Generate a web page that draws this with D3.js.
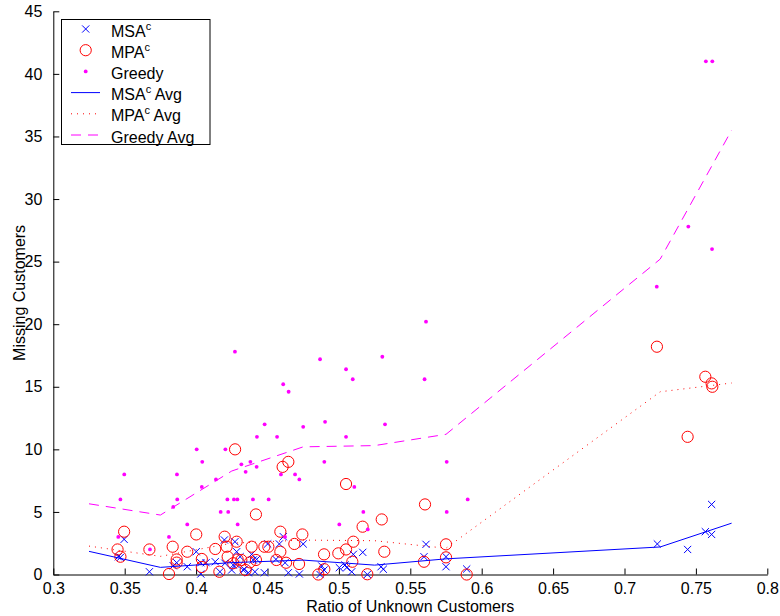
<!DOCTYPE html>
<html>
<head>
<meta charset="utf-8">
<script src="https://cdn.jsdelivr.net/npm/d3@7"></script>
<style>
  html, body { margin: 0; padding: 0; background: #fff; }
  svg { display: block; }
  text { font-family: "Liberation Sans", Arial, Helvetica, sans-serif; }
</style>
</head>
<body>
<svg id="chart" width="780" height="616"></svg>
<script>
// ---------------- data ----------------
const xTicks = [0.3, 0.35, 0.4, 0.45, 0.5, 0.55, 0.6, 0.65, 0.7, 0.75, 0.8];
const xTickLabels = ["0.3", "0.35", "0.4", "0.45", "0.5", "0.55", "0.6", "0.65", "0.7", "0.75", "0.8"];
const yTicks = [0, 5, 10, 15, 20, 25, 30, 35, 40, 45];
const yTickLabels = ["0", "5", "10", "15", "20", "25", "30", "35", "40", "45"];

// MSA^c scatter: [ratio, missing]
const msaPoints = [
  [0.3455,1.42],[0.347,1.37],[0.3496,2.81],[0.3673,0.22],[0.384,0.7],[0.3864,0.94],
  [0.3938,0.62],[0.4001,1.82],[0.4033,0.94],[0.4033,0.04],[0.407,0.94],[0.4134,1.02],
  [0.4167,0.22],[0.4198,2.76],[0.4202,0.9],[0.4249,0.36],[0.426,0.76],[0.4272,2.62],
  [0.4279,0.81],[0.4284,1.82],[0.4308,1.42],[0.433,0.36],[0.4338,0.42],[0.4366,0.14],
  [0.4389,1.61],[0.44,1.16],[0.4412,0.22],[0.4424,1.21],[0.4478,0.14],[0.4501,2.44],
  [0.4559,1.21],[0.4583,2.44],[0.4611,3.02],[0.4623,0.94],[0.4646,0.14],[0.4723,0.04],
  [0.475,2.44],[0.4868,0.0],[0.488,0.68],[0.4896,0.36],[0.5003,0.55],[0.5043,0.76],
  [0.5055,0.55],[0.509,0.22],[0.5101,1.61],[0.5167,1.77],[0.5199,0.0],[0.5295,0.62],
  [0.5311,0.42],[0.5596,1.42],[0.561,2.41],[0.575,1.42],[0.575,0.62],[0.5895,0.44],
  [0.723,2.44],[0.7442,2.0],[0.7566,3.42],[0.761,3.2],[0.761,5.6]
];
// MPA^c scatter
const mpaPoints = [
  [0.345,2.0],[0.347,1.42],[0.3496,3.42],[0.3673,2.0],[0.381,0.04],[0.3836,2.22],
  [0.3864,1.2],[0.3864,0.95],[0.3938,1.82],[0.4001,3.2],[0.404,1.24],[0.404,0.6],
  [0.4134,2.04],[0.4163,0.22],[0.42,3.02],[0.4214,2.22],[0.4221,1.42],[0.426,0.9],
  [0.4273,10.0],[0.4284,2.62],[0.4291,1.2],[0.4317,1.16],[0.4347,0.36],[0.4377,0.97],
  [0.4389,2.22],[0.4419,4.8],[0.4419,1.16],[0.4478,2.22],[0.4506,2.22],[0.4562,1.16],
  [0.459,3.42],[0.459,1.82],[0.4606,8.6],[0.4646,9.0],[0.463,0.94],[0.4688,2.44],
  [0.4721,0.84],[0.4744,3.2],[0.4856,0.0],[0.4896,1.61],[0.4898,0.42],[0.4996,1.69],
  [0.505,7.23],[0.505,2.0],[0.5094,1.02],[0.5101,2.62],[0.5166,3.82],[0.5199,0.02],
  [0.53,4.4],[0.5318,1.82],[0.5596,1.02],[0.5603,5.6],[0.575,2.41],[0.575,1.37],
  [0.5895,0.0],[0.7227,18.2],[0.7442,11.0],[0.7566,15.8],[0.761,15.27],[0.7615,15.0]
];
// Greedy scatter
const greedyPoints = [
  [0.3455,3.0],[0.347,6.0],[0.3497,8.0],[0.3677,2.0],[0.381,3.0],[0.384,5.4],
  [0.3868,6.0],[0.3866,8.0],[0.3938,4.0],[0.4004,10.0],[0.4043,9.0],[0.404,7.0],
  [0.4139,7.6],[0.4172,5.0],[0.4225,5.0],[0.4205,10.0],[0.4219,6.0],[0.4265,6.0],
  [0.4289,6.0],[0.4291,4.0],[0.4272,17.8],[0.4317,8.8],[0.4347,8.2],[0.438,9.0],
  [0.4398,6.0],[0.4424,8.6],[0.4426,11.0],[0.448,12.0],[0.4508,6.0],[0.4567,11.0],
  [0.4594,8.0],[0.461,15.2],[0.4623,3.0],[0.4648,14.6],[0.4693,8.0],[0.4723,7.6],
  [0.475,11.8],[0.4868,17.2],[0.4898,9.0],[0.4903,12.2],[0.5003,4.0],[0.505,16.4],
  [0.505,11.0],[0.5097,15.6],[0.5108,7.0],[0.5171,5.0],[0.5202,3.6],[0.5304,17.4],
  [0.5323,12.0],[0.56,15.6],[0.561,20.2],[0.5755,9.0],[0.5755,5.0],[0.5902,6.0],
  [0.7226,23.0],[0.7447,27.8],[0.757,41.0],[0.7613,26.0],[0.7615,41.0]
];

// Averages (bin centres)
const avgX = [0.325, 0.375, 0.425, 0.475, 0.525, 0.575, 0.725, 0.775];
const msaAvg = [1.85, 0.57, 0.95, 1.15, 0.75, 1.25, 2.2, 4.1];
const mpaAvg = [2.27, 1.45, 2.5, 2.75, 2.7, 2.1, 14.6, 15.3];
const greedyAvg = [5.65, 4.75, 8.27, 10.2, 10.3, 11.2, 25.2, 35.5];

const xTitle = "Ratio of Unknown Customers";
const yTitle = "Missing Customers";

// ---------------- drawing ----------------
(function () {
const svg = d3.select("#chart");
const FONT = 16;
const pLeft = 53.3, pRight = 767.3, pTop = 11.3, pBottom = 574.5;

const x = d3.scaleLinear().domain([0.3, 0.8]).range([pLeft, pRight]);
const y = d3.scaleLinear().domain([0, 45]).range([pBottom, pTop]);

const BLUE = "#0000ff", RED = "#ff0000", MAG = "#ff00ff";

// axes
const xAxis = d3.axisBottom(x).tickValues(xTicks)
  .tickFormat((d, i) => xTickLabels[i]).tickSizeInner(-6).tickSizeOuter(0).tickPadding(8);
const yAxis = d3.axisLeft(y).tickValues(yTicks)
  .tickFormat((d, i) => yTickLabels[i]).tickSizeInner(-6).tickSizeOuter(0).tickPadding(11);

const gx = svg.append("g").attr("transform", `translate(0,${pBottom})`).call(xAxis);
const gy = svg.append("g").attr("transform", `translate(${pLeft},0)`).call(yAxis);
[gx, gy].forEach(g => {
  g.selectAll("text").attr("font-size", FONT).attr("fill", "#000")
    .attr("font-family", '"Liberation Sans", Arial, Helvetica, sans-serif');
  g.selectAll("line").attr("stroke", "#000");
  g.select(".domain").attr("stroke", "#000");
});

// titles
svg.append("text").attr("x", (pLeft + pRight) / 2).attr("y", 612)
  .attr("text-anchor", "middle").attr("font-size", FONT).text(xTitle);
svg.append("text")
  .attr("transform", `translate(25,${(pTop + pBottom) / 2}) rotate(-90)`)
  .attr("text-anchor", "middle").attr("font-size", FONT).text(yTitle);

const plot = svg.append("g");

// MSA crosses
const cs = 3.6;
plot.append("g").selectAll("path").data(msaPoints).join("path")
  .attr("d", d => {
    const px = x(d[0]), py = y(d[1]);
    return `M${px - cs},${py - cs}L${px + cs},${py + cs}M${px - cs},${py + cs}L${px + cs},${py - cs}`;
  })
  .attr("stroke", BLUE).attr("stroke-width", 1).attr("fill", "none");

// MPA circles
plot.append("g").selectAll("circle").data(mpaPoints).join("circle")
  .attr("cx", d => x(d[0])).attr("cy", d => y(d[1])).attr("r", 5.6)
  .attr("stroke", RED).attr("stroke-width", 1).attr("fill", "none");

// Greedy dots
plot.append("g").selectAll("circle").data(greedyPoints).join("circle")
  .attr("cx", d => x(d[0])).attr("cy", d => y(d[1])).attr("r", 1.9)
  .attr("fill", MAG);

// Average lines
const line = d3.line().x(d => x(d[0])).y(d => y(d[1]));
const avgSeries = [
  { vals: msaAvg, color: BLUE, dash: null },
  { vals: mpaAvg, color: RED, dash: "1,5" },
  { vals: greedyAvg, color: MAG, dash: "10,7" }
];
avgSeries.forEach(s => {
  plot.append("path").datum(avgX.map((v, i) => [v, s.vals[i]]))
    .attr("d", line).attr("fill", "none").attr("stroke", s.color)
    .attr("stroke-width", 1).attr("stroke-dasharray", s.dash);
});

// Legend
const lg = svg.append("g");
lg.append("rect").attr("x", 61.5).attr("y", 19.5).attr("width", 148.5).attr("height", 125)
  .attr("fill", "#fff").attr("stroke", "#000").attr("stroke-width", 1);
const rows = [
  { name: "MSA", sup: "c", suffix: "", type: "x", color: BLUE },
  { name: "MPA", sup: "c", suffix: "", type: "o", color: RED },
  { name: "Greedy", sup: null, suffix: "", type: ".", color: MAG },
  { name: "MSA", sup: "c", suffix: " Avg", type: "line", color: BLUE, dash: null },
  { name: "MPA", sup: "c", suffix: " Avg", type: "line", color: RED, dash: "1,5" },
  { name: "Greedy Avg", sup: null, suffix: "", type: "line", color: MAG, dash: "10,7" }
];
rows.forEach((r, i) => {
  const cy = 29 + i * 21.2;
  const mx = 85.7;
  if (r.type === "x") {
    lg.append("path").attr("d", `M${mx - cs},${cy - cs}L${mx + cs},${cy + cs}M${mx - cs},${cy + cs}L${mx + cs},${cy - cs}`)
      .attr("stroke", r.color).attr("fill", "none");
  } else if (r.type === "o") {
    lg.append("circle").attr("cx", mx).attr("cy", cy).attr("r", 5.6).attr("stroke", r.color).attr("fill", "none");
  } else if (r.type === ".") {
    lg.append("circle").attr("cx", mx).attr("cy", cy).attr("r", 1.9).attr("fill", r.color);
  } else {
    lg.append("line").attr("x1", 71).attr("x2", 100).attr("y1", cy).attr("y2", cy)
      .attr("stroke", r.color).attr("stroke-dasharray", r.dash);
  }
  const t = lg.append("text").attr("x", 111).attr("y", cy + 7.5).attr("font-size", FONT);
  t.append("tspan").text(r.name);
  if (r.sup) {
    t.append("tspan").attr("font-size", 11).attr("dy", -7).text(r.sup);
    if (r.suffix) t.append("tspan").attr("dy", 7).text(r.suffix);
  }
});
})();
</script>
</body>
</html>
